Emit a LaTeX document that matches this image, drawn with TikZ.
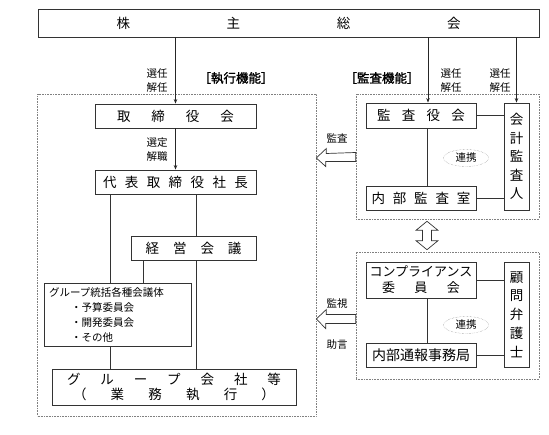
\documentclass[tikz,border=0pt]{standalone}
\usepackage{fontspec}
\setmainfont{Noto Sans CJK JP}
\newfontfamily\headjp{Noto Sans CJK JP}[FakeBold=1.5]
\usetikzlibrary{arrows.meta,shapes.geometric}

\begin{document}
\begin{tikzpicture}[x=1pt,y=-1pt,
  box/.style={draw=black!80,line width=0.8pt,fill=white,inner sep=0pt,font=\fontsize{13.5}{15}\selectfont,align=center},
  area/.style={draw=black!50,densely dotted,line width=0.6pt,inner sep=0pt},
  lbl/.style={font=\fontsize{10.5}{14}\selectfont,align=center,inner sep=1pt},
  tip/.style={-{Stealth[length=4.5pt,width=3.5pt]},line width=0.8pt,draw=black!85},
  link/.style={line width=0.8pt,draw=black!80},
  hollow/.style={draw=black!80,line width=0.7pt,fill=white},
  coop/.style={ellipse,draw=black!50,densely dotted,minimum width=45pt,minimum height=17pt,inner sep=0pt,font=\fontsize{10.5}{12}\selectfont}]
\useasboundingbox (0,0) rectangle (549,435);

% dotted areas
\node (execarea) [area,minimum width=278.5pt,minimum height=321.5pt] at (176.75,255.25) {};
\node (auditarea) [area,minimum width=183pt,minimum height=125pt] at (447.5,156.5) {};
\node (compliarea) [area,minimum width=183pt,minimum height=127pt] at (447.5,315.5) {};

% boxes
\node (meeting) [box,minimum width=501pt,minimum height=28pt] at (288.5,23) {\makebox[344pt][s]{株\hfill 主\hfill 総\hfill 会}};
\node (board) [box,minimum width=161pt,minimum height=24pt] at (175.5,116) {\makebox[117pt][s]{取\hfill 締\hfill 役\hfill 会}};
\node (president) [box,minimum width=161pt,minimum height=24pt] at (175.5,182) {\makebox[145pt][s]{代\hfill 表\hfill 取\hfill 締\hfill 役\hfill 社\hfill 長}};
\node (mgmt) [box,minimum width=125pt,minimum height=24pt] at (193.5,248) {\makebox[96pt][s]{経\hfill 営\hfill 会\hfill 議}};
\node (groupconf) [box,minimum width=147pt,minimum height=63pt,text width=137pt,align=left,font=\fontsize{10.5}{15}\selectfont] at (117.5,314.5) {グループ統括各種会議体\\\hspace*{22pt}・予算委員会\\\hspace*{22pt}・開発委員会\\\hspace*{22pt}・その他};
\node (groupco) [box,minimum width=244pt,minimum height=36pt] at (174,387) {\makebox[214pt][s]{グ\hfill ル\hfill ー\hfill プ\hfill 会\hfill 社\hfill 等}\\\makebox[202pt][s]{（\hfill 業\hfill 務\hfill 執\hfill 行\hfill ）}};

\node (auditboard) [box,minimum width=110pt,minimum height=25pt] at (421,115.5) {\makebox[88pt][s]{監\hfill 査\hfill 役\hfill 会}};
\node (internalaudit) [box,minimum width=110pt,minimum height=24pt] at (421,198) {\makebox[99pt][s]{内\hfill 部\hfill 監\hfill 査\hfill 室}};
\node (accountant) [box,minimum width=25pt,minimum height=107pt,font=\fontsize{13.5}{18.5}\selectfont] at (516.5,156.5) {会\\計\\監\\査\\人};
\node (compliance) [box,minimum width=110pt,minimum height=36pt,font=\fontsize{13}{16}\selectfont] at (421,280) {コンプライアンス\\\makebox[78pt][s]{委\hfill 員\hfill 会}};
\node (hotline) [box,minimum width=110pt,minimum height=24pt,font=\fontsize{14}{15}\selectfont] at (421,355) {内部通報事務局};
\node (counsel) [box,minimum width=25pt,minimum height=105pt,font=\fontsize{13.5}{18.7}\selectfont] at (516.5,314.5) {顧\\問\\弁\\護\\士};

% labels
\node (elect1) [lbl] at (157,81) {選任\\解任};
\node (elect2) [lbl] at (451,81) {選任\\解任};
\node (elect3) [lbl] at (500,81) {選任\\解任};
\node (appoint) [lbl] at (157,150) {選定\\解職};
\node (execlabel) [font=\headjp\fontsize{12.5}{14}\selectfont] at (236,78) {［執行機能］};
\node (auditlabel) [font=\headjp\fontsize{12.5}{14}\selectfont] at (382,78) {［監査機能］};
\node (audittext) [lbl] at (337,138) {監査};
\node (monitor) [lbl] at (337,304) {監視};
\node (advice) [lbl] at (337,345) {助言};
\node (coop1) [coop] at (466,158) {連携};
\node (coop2) [coop] at (466,325) {連携};

% arrows
\draw[tip] (board.north |- meeting.south) -- (board.north);
\draw[tip] ([xshift=7pt]auditboard.north |- meeting.south) -- ([xshift=7pt]auditboard.north);
\draw[tip] (accountant.north |- meeting.south) -- (accountant.north);
\draw[tip] (board) -- (president);

% lines
\draw[link] ([xshift=-65.5pt]president.south) -- ([xshift=-65.5pt]president.south |- groupconf.north);
\draw[link] ([xshift=20.5pt]president.south) -- ([xshift=20.5pt]president.south |- mgmt.north);
\draw[link] ([xshift=-50.5pt]mgmt.south) -- ([xshift=-50.5pt]mgmt.south |- groupconf.north);
\draw[link] ([xshift=2.5pt]mgmt.south) -- ([xshift=2.5pt]mgmt.south |- groupco.north);
\draw[link] ([xshift=-7.5pt]groupconf.south) -- ([xshift=-7.5pt]groupconf.south |- groupco.north);
\draw[link] ([xshift=6pt]auditboard.south) -- ([xshift=6pt]internalaudit.north);
\draw[link] (auditboard.east) -- (auditboard.east -| accountant.west);
\draw[link] (internalaudit.east) -- (internalaudit.east -| accountant.west);
\draw[link] ([xshift=6pt]compliance.south) -- ([xshift=6pt]hotline.north);
\draw[link] (compliance.east) -- (compliance.east -| counsel.west);
\draw[link] (hotline.east) -- (hotline.east -| counsel.west);

% hollow arrows
\coordinate (audittip) at (execarea.east |- coop1);
\draw[hollow] (audittip) -- ++(10,-9.5) -- ++(0,5) -- (auditarea.west |- 0,152.5) -- (auditarea.west |- 0,161.5) -- ++(-30,0) -- ++(0,5) -- cycle;
\coordinate (monitortip) at (execarea.east |- 0,319);
\draw[hollow] (monitortip) -- ++(10,-9.5) -- ++(0,5) -- (compliarea.west |- 0,314.5) -- (compliarea.west |- 0,323.5) -- ++(-30,0) -- ++(0,5) -- cycle;
\coordinate (uptip) at ([xshift=6pt]auditarea.south -| internalaudit.south);
\coordinate (downtip) at ([xshift=6pt]compliarea.north -| compliance.north);
\draw[hollow] ([yshift=-2pt]uptip) -- ++(11,9) -- ++(-6.5,0) -- ([xshift=4.5pt,yshift=11pt]downtip) -- ++(6.5,0)
  -- ([yshift=2pt]downtip) -- ++(-11,-9) -- ++(6.5,0) -- ([xshift=-4.5pt,yshift=-11pt]uptip) -- ++(-6.5,0) -- cycle;
\end{tikzpicture}
\end{document}
